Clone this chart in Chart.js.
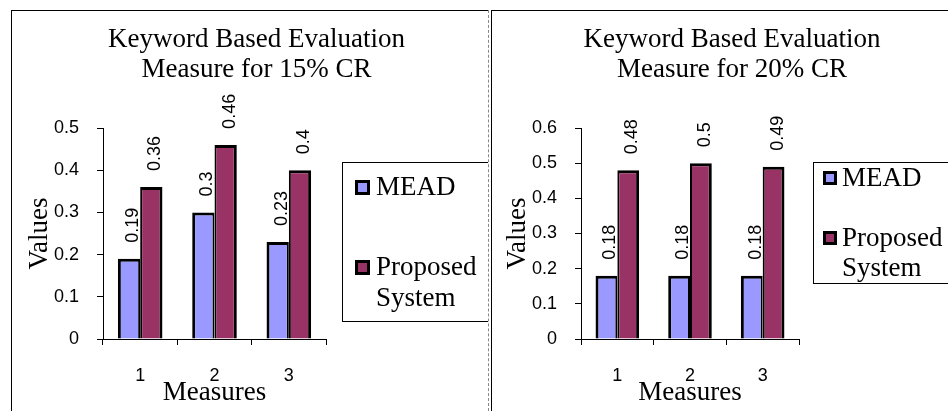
<!DOCTYPE html>
<html>
<head>
<meta charset="utf-8">
<script src="https://cdn.jsdelivr.net/npm/chart.js@4.4.1/dist/chart.umd.min.js"></script>
<style>
  html, body { margin: 0; padding: 0; background: #ffffff; }
  body { width: 948px; height: 411px; position: relative; overflow: hidden; }
  .clip { position: absolute; overflow: hidden; }
  .line { position: absolute; }
</style>
</head>
<body>
<!-- frames -->
<div class="line" style="left:11px;top:10px;width:478px;height:1px;background:#000;"></div>
<div class="line" style="left:11px;top:10px;width:1px;height:401px;background:#000;"></div>
<div class="line" style="left:488px;top:10px;width:0;height:401px;border-left:1px dashed #888;"></div>
<div class="line" style="left:491px;top:10px;width:457px;height:1px;background:#000;"></div>
<div class="line" style="left:491px;top:10px;width:1px;height:401px;background:#000;"></div>

<div class="clip" style="left:11px;top:10px;width:477px;height:401px;">
  <canvas id="c1" width="478" height="401"></canvas>
</div>
<div class="clip" style="left:492px;top:10px;width:456px;height:401px;">
  <canvas id="c2" width="470" height="401"></canvas>
</div>

<script>
// ---------- data ----------
const categories = ['1', '2', '3'];
const seriesNames = ['MEAD', 'Proposed System'];

const mead15 = [0.19, 0.30, 0.23];
const proposed15 = [0.36, 0.46, 0.40];
const yTickLabels15 = ['0', '0.1', '0.2', '0.3', '0.4', '0.5'];

const mead20 = [0.18, 0.18, 0.18];
const proposed20 = [0.48, 0.50, 0.49];
const yTickLabels20 = ['0', '0.1', '0.2', '0.3', '0.4', '0.5', '0.6'];

const title15 = ['Keyword Based Evaluation', 'Measure for 15% CR'];
const title20 = ['Keyword Based Evaluation', 'Measure for 20% CR'];

// ---------- styles ----------
const MEAD_COLOR = '#9999FF';
const PROP_COLOR = '#993366';
const SERIF = '"Liberation Serif", "Times New Roman", serif';
const SANS = '"Liberation Sans", Arial, sans-serif';

// data labels (rotated) plugin
const barLabels = {
  id: 'barLabels',
  afterDatasetsDraw(chart) {
    const ctx = chart.ctx;
    ctx.save();
    ctx.fillStyle = '#000';
    ctx.font = '18px ' + SANS;
    ctx.textAlign = 'left';
    ctx.textBaseline = 'middle';
    chart.data.datasets.forEach((ds, di) => {
      const meta = chart.getDatasetMeta(di);
      meta.data.forEach((bar, i) => {
        ctx.save();
        ctx.translate(bar.x + 4, bar.y - 16);
        ctx.rotate(-Math.PI / 2);
        ctx.fillText(String(ds.data[i]), 0, 0);
        ctx.restore();
      });
    });
    ctx.restore();
  }
};

// boxed legend plugin
const boxLegend = {
  id: 'boxLegend',
  afterDraw(chart, args, o) {
    const ctx = chart.ctx;
    ctx.save();
    ctx.strokeStyle = '#000';
    ctx.lineWidth = 1;
    ctx.strokeRect(o.x + 0.5, o.y + 0.5, o.w, o.h);
    ctx.font = '27px ' + SERIF;
    ctx.textAlign = 'left';
    ctx.textBaseline = 'middle';
    chart.data.datasets.forEach((ds, i) => {
      const it = o.items[i];
      ctx.fillStyle = '#000';
      ctx.fillRect(o.sx, it.sy, o.size, o.size);
      ctx.fillStyle = ds.backgroundColor;
      ctx.fillRect(o.sx + 3, it.sy + 3, o.size - 6, o.size - 6);
      ctx.fillStyle = '#000';
      it.lines.forEach((t, k) => {
        ctx.fillText(t, o.tx, it.ty + k * o.lh);
      });
    });
    ctx.restore();
  }
};

function makeChart(id, title, a, b, yMax, yTickLabels, padLeft, legendOpts) {
  return new Chart(document.getElementById(id), {
    type: 'bar',
    data: {
      labels: categories,
      datasets: [
        { label: seriesNames[0], data: a, backgroundColor: MEAD_COLOR, borderColor: '#000',
          borderWidth: { left: 3, top: 3, right: 2, bottom: 0 }, borderSkipped: false },
        { label: seriesNames[1], data: b, backgroundColor: PROP_COLOR, borderColor: '#000',
          borderWidth: { left: 2, top: 3, right: 3, bottom: 0 }, borderSkipped: false }
      ]
    },
    options: {
      responsive: false,
      animation: false,
      devicePixelRatio: 1,
      layout: { padding: { left: padLeft, right: 0, top: 0, bottom: 0 } },
      datasets: { bar: { categoryPercentage: 0.6, barPercentage: 1.0 } },
      plugins: {
        legend: { display: false },
        tooltip: { enabled: false },
        title: {
          display: true,
          text: title,
          color: '#000',
          font: { family: SERIF, size: 27, weight: 'normal', lineHeight: 30 / 27 },
          padding: { top: 15, bottom: 43 }
        },
        boxLegend: legendOpts
      },
      scales: {
        x: {
          type: 'category',
          offset: true,
          grid: { display: true, offset: true, drawOnChartArea: false, drawTicks: true, tickLength: 6, color: '#000' },
          border: { display: true, color: '#000', width: 1 },
          ticks: { color: '#000', font: { family: SANS, size: 18 }, padding: 20 },
          title: { display: true, text: 'Measures', color: '#000', font: { family: SERIF, size: 27 }, padding: { top: 0, bottom: 2 } },
          afterFit(s) { s.height = 72; }
        },
        y: {
          min: 0, max: yMax,
          ticks: {
            stepSize: 0.1, color: '#000', font: { family: SANS, size: 18 }, padding: 18,
            callback: (v, i) => yTickLabels[i]
          },
          grid: { display: true, drawOnChartArea: false, drawTicks: true, tickLength: 6, color: '#000' },
          border: { display: true, color: '#000', width: 1 },
          title: { display: true, text: 'Values', color: '#000', font: { family: SERIF, size: 27 }, padding: { top: 0, bottom: 0 } },
          afterFit(s) { s.width = 79; }
        },
        yRight: {
          type: 'linear',
          position: 'right',
          display: true,
          grid: { display: false },
          border: { display: false },
          ticks: { display: false },
          afterFit(s) { s.width = 163; }
        }
      }
    },
    plugins: [barLabels, boxLegend]
  });
}

makeChart('c1', title15, mead15, proposed15, 0.5, yTickLabels15, 13, {
  x: 331, y: 152, w: 200, h: 159, sx: 344, size: 15, tx: 365, lh: 31,
  items: [
    { sy: 170, ty: 178, lines: ['MEAD'] },
    { sy: 250, ty: 258, lines: ['Proposed', 'System'] }
  ]
});

makeChart('c2', title20, mead20, proposed20, 0.6, yTickLabels20, 10, {
  x: 321, y: 152, w: 200, h: 121, sx: 331, size: 14, tx: 350, lh: 30,
  items: [
    { sy: 161, ty: 169, lines: ['MEAD'] },
    { sy: 221, ty: 229, lines: ['Proposed', 'System'] }
  ]
});
</script>
</body>
</html>
